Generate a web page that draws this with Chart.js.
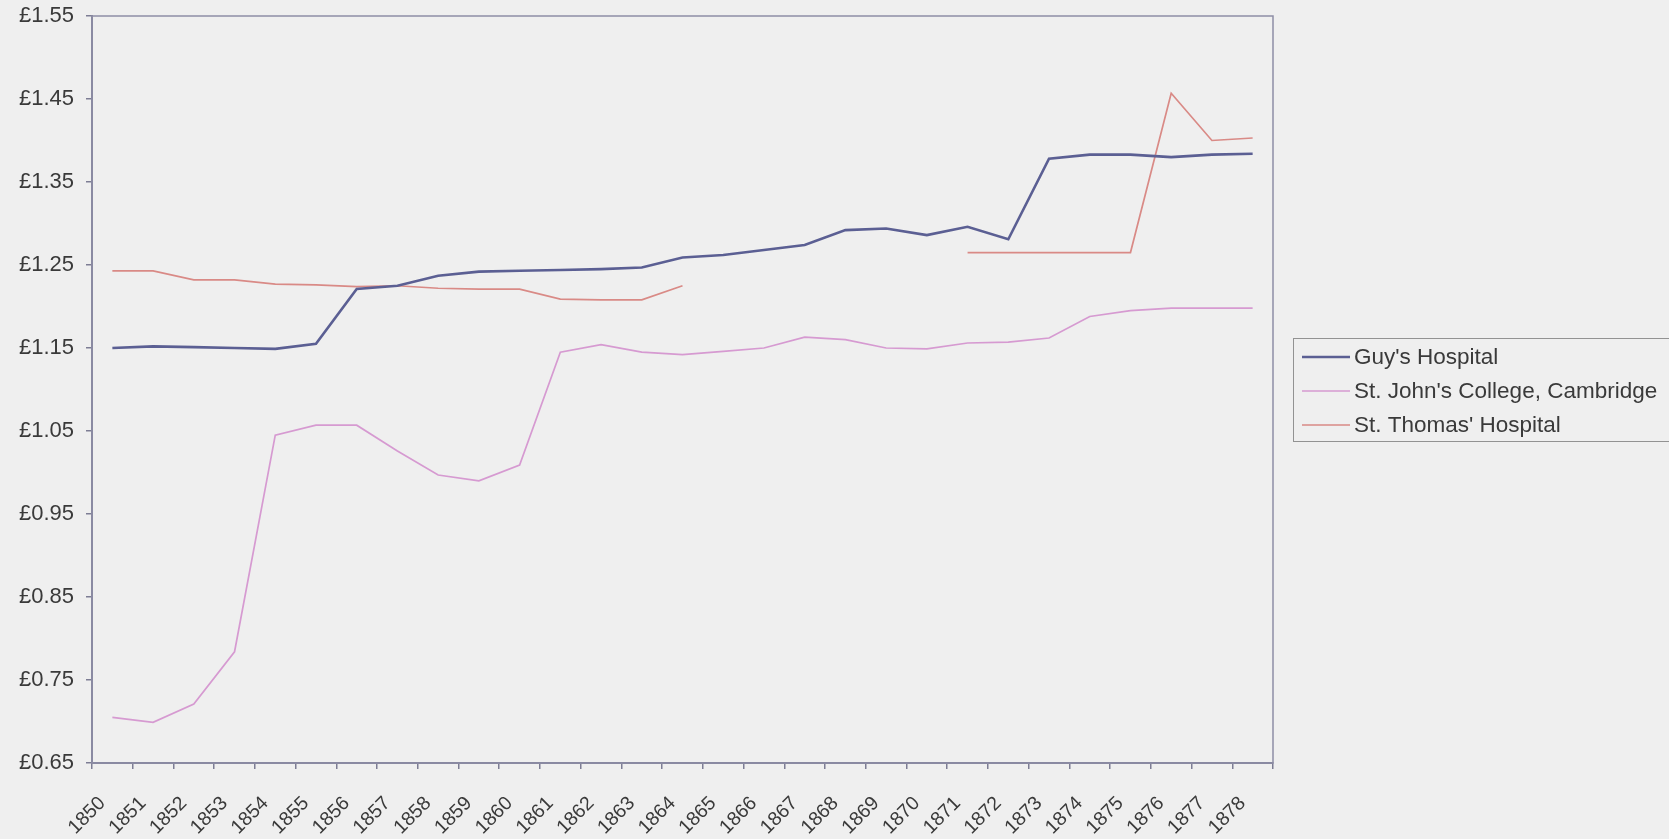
<!DOCTYPE html>
<html>
<head>
<meta charset="utf-8">
<title>Prices 1850-1878</title>
<script src="https://cdn.jsdelivr.net/npm/chart.js@4.4.1/dist/chart.umd.min.js"></script>
<style>
  html, body { margin: 0; padding: 0; background: #efefef; }
  #wrap { width: 1669px; height: 839px; }
</style>
</head>
<body>
<div id="wrap"><canvas id="priceChart" width="1669" height="839"></canvas></div>
<script>
const years = ['1850', '1851', '1852', '1853', '1854', '1855', '1856', '1857', '1858', '1859',
  '1860', '1861', '1862', '1863', '1864', '1865', '1866', '1867', '1868', '1869',
  '1870', '1871', '1872', '1873', '1874', '1875', '1876', '1877', '1878'];

const guysHospital = [1.150, 1.152, 1.151, 1.150, 1.149, 1.155, 1.221, 1.225, 1.237, 1.242,
  1.243, 1.244, 1.245, 1.247, 1.259, 1.262, 1.268, 1.274, 1.292, 1.294,
  1.286, 1.296, 1.281, 1.378, 1.383, 1.383, 1.380, 1.383, 1.384];

const stJohnsCollege = [0.705, 0.699, 0.721, 0.784, 1.045, 1.057, 1.057, 1.026, 0.997, 0.990,
  1.009, 1.145, 1.154, 1.145, 1.142, 1.146, 1.150, 1.163, 1.160, 1.150,
  1.149, 1.156, 1.157, 1.162, 1.188, 1.195, 1.198, 1.198, 1.198];

// no figures for St. Thomas' between 1865 and 1870
const stThomasHospital = [1.243, 1.243, 1.232, 1.232, 1.227, 1.226, 1.224, 1.225, 1.222, 1.221,
  1.221, 1.209, 1.208, 1.208, 1.225, null, null, null, null, null,
  null, 1.265, 1.265, 1.265, 1.265, 1.265, 1.457, 1.400, 1.403];

const yMin = 0.65;
const yMax = 1.55;
const yStep = 0.10;

const FONT = '"Liberation Sans", Arial, sans-serif';
const AXIS = '#7d7d94';
const TEXT = '#3a3a3a';

Chart.defaults.font.family = FONT;

// page fill, plot frame and the boxed key on the right
const frameAndKey = {
  id: 'frameAndKey',
  beforeDraw(chart) {
    const ctx = chart.ctx;
    ctx.save();
    ctx.fillStyle = '#efefef';
    ctx.fillRect(0, 0, chart.width, chart.height);
    ctx.restore();
  },
  afterDraw(chart) {
    const { ctx, chartArea: a } = chart;
    ctx.save();
    ctx.strokeStyle = '#8e8ea6';
    ctx.lineWidth = 1.5;
    ctx.strokeRect(a.left, a.top, a.right - a.left, a.bottom - a.top);

    const rowH = 34;
    const boxH = 103;
    const boxL = a.right + 20;
    const boxT = Math.round((a.top + a.bottom) / 2 - boxH / 2);
    ctx.strokeStyle = '#929292';
    ctx.lineWidth = 1;
    ctx.strokeRect(boxL + 0.5, boxT + 0.5, chart.width - boxL + 5, boxH);

    ctx.font = '22.5px ' + FONT;
    ctx.textBaseline = 'middle';
    ctx.textAlign = 'left';
    chart.data.datasets.forEach((ds, i) => {
      const y = boxT + 19 + i * rowH;
      ctx.strokeStyle = ds.borderColor;
      ctx.lineWidth = ds.borderWidth;
      ctx.beginPath();
      ctx.moveTo(boxL + 9, y);
      ctx.lineTo(boxL + 57, y);
      ctx.stroke();
      ctx.fillStyle = TEXT;
      ctx.fillText(ds.label, boxL + 61, y + 1);
    });
    ctx.restore();
  }
};

new Chart(document.getElementById('priceChart'), {
  type: 'line',
  data: {
    labels: years,
    datasets: [{
      label: "Guy's Hospital",
      data: guysHospital,
      borderColor: '#5b5f93',
      borderWidth: 2.6
    }, {
      label: "St. John's College, Cambridge",
      data: stJohnsCollege,
      borderColor: '#d69ad1',
      borderWidth: 1.7
    }, {
      label: "St. Thomas' Hospital",
      data: stThomasHospital,
      borderColor: '#d98a86',
      borderWidth: 1.7
    }]
  },
  options: {
    responsive: false,
    animation: false,
    devicePixelRatio: 1,
    layout: { padding: { left: 0, top: 0, right: 396, bottom: 0 } },
    elements: {
      point: { radius: 0, hoverRadius: 0 },
      line: { tension: 0, fill: false }
    },
    plugins: {
      legend: { display: false },
      tooltip: { enabled: false }
    },
    scales: {
      x: {
        offset: true,
        afterFit: scale => { scale.height = 76; },
        grid: {
          offset: true,
          drawOnChartArea: false,
          drawTicks: true,
          tickLength: 6,
          color: AXIS,
          lineWidth: 1.5
        },
        border: { display: true, color: AXIS, width: 2 },
        ticks: {
          autoSkip: false,
          minRotation: 45,
          maxRotation: 45,
          padding: 23,
          labelOffset: -10,
          color: TEXT,
          font: { size: 19.5 }
        }
      },
      y: {
        min: yMin,
        max: yMax,
        afterFit: scale => {
          scale.width = 92;
          scale.paddingTop = 16;
        },
        grid: {
          drawOnChartArea: false,
          drawTicks: true,
          tickLength: 6,
          color: AXIS,
          lineWidth: 1.5
        },
        border: { display: true, color: AXIS, width: 2 },
        ticks: {
          stepSize: yStep,
          padding: 12,
          color: TEXT,
          font: { size: 22 },
          callback: value => '£' + Number(value).toFixed(2)
        }
      }
    }
  },
  plugins: [frameAndKey]
});
</script>
</body>
</html>
